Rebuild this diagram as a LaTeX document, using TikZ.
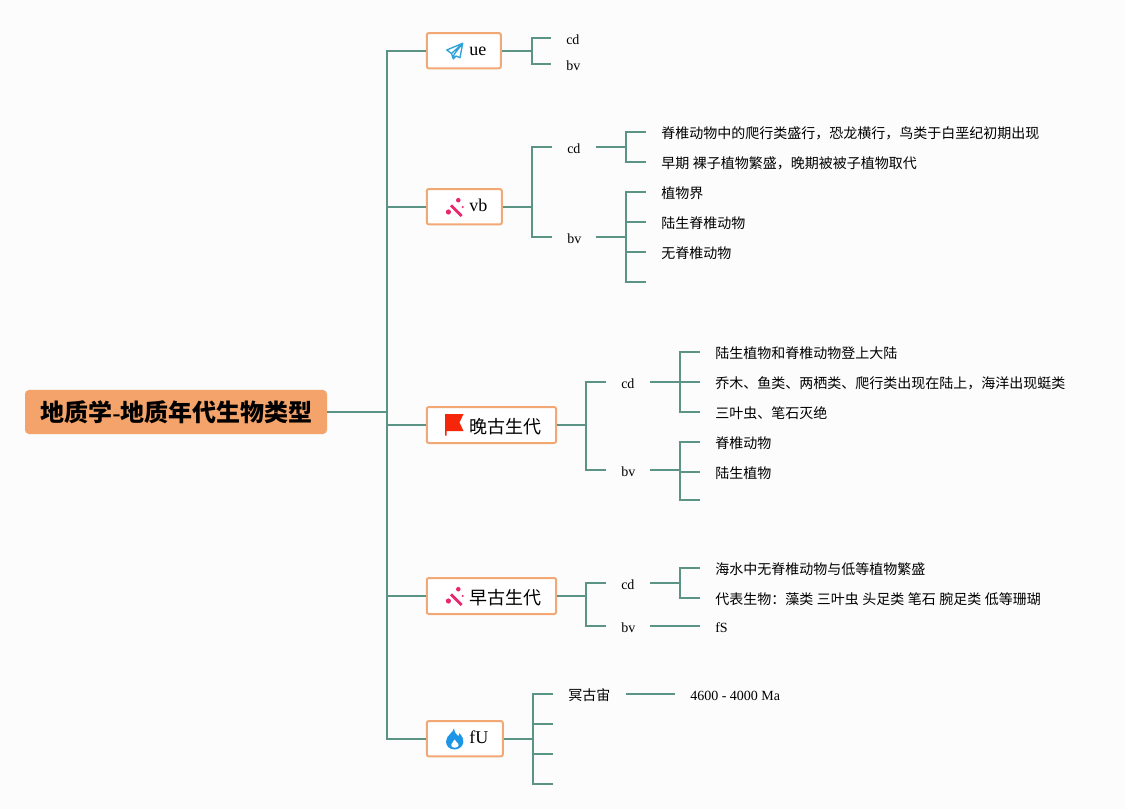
\documentclass[tikz,border=0pt]{standalone}
\usepackage{fontspec}
\setmainfont{Liberation Serif}
\newfontfamily\cjk{Noto Sans CJK SC}
\newcommand{\zh}[1]{{\cjk #1}}
\newcommand{\zsp}{{\rmfamily\ }}
\definecolor{bgc}{HTML}{FCFCFC}
\definecolor{linkc}{HTML}{5B9484}
\definecolor{rootc}{HTML}{F4A46A}
\definecolor{boxc}{HTML}{F2A875}
\definecolor{planec}{HTML}{2FA3D8}
\definecolor{wandc}{HTML}{E8286E}
\definecolor{flagc}{HTML}{F5260A}
\definecolor{flamec}{HTML}{1E96E8}
\tikzset{
  x=.75pt,y=-.75pt,
  link/.style={draw=linkc,line width=1.6pt},
  rootbox/.style={fill=rootc,rounded corners=3pt,inner sep=0pt,minimum width=226.5pt,minimum height=33pt,align=center,font=\fontsize{18}{20}\selectfont\bfseries},
  topicbox/.style={draw=boxc,fill=white,line width=1.5pt,rounded corners=1.5pt,inner sep=0pt,minimum height=26.5pt,anchor=west},
  boxtext/.style={inner sep=0pt,anchor=west,font=\fontsize{13.5}{15}\selectfont,text height=9.75pt,text depth=0pt},
  leaf/.style={anchor=west,inner xsep=11.25pt,inner ysep=0pt,font=\fontsize{10.5}{12}\selectfont,text height=9.75pt,text depth=0pt},
  midleaf/.style={leaf,text width=9.75pt,align=left},
  wandicon/.pic={
    \draw[wandc,line width=2.1pt] (-4,-1.7) -- (6.7,9);
    \fill[wandc] (3.3,-6.8) circle (2.3);
    \fill[wandc] (-6.6,5) circle (2.6);
    \fill[wandc] (7.7,0) circle (1.2);
  },
}
\begin{document}
\begin{tikzpicture}
\useasboundingbox[fill=bgc] (0,0) rectangle (1125,809);

% root and main trunk
\node[rootbox] (root) at (176,412) {\raisebox{-1.6pt}{\hspace{1pt}\zh{\bfseries 地质学}-\zh{\bfseries 地质年代生物类型}}};
\coordinate (mainJ) at (387,412);
\draw[link] (root.east) -- (mainJ);

% topics
\node[topicbox,minimum width=55.5pt] (tA) at (425.8,50.7) {};
\node[topicbox,minimum width=56.25pt] (tB) at (425.8,206.7) {};
\node[topicbox,minimum width=97pt,minimum height=27pt] (tC) at (425.8,425) {};
\node[topicbox,minimum width=97pt,minimum height=27pt] (tD) at (425.8,596) {};
\node[topicbox,minimum width=57pt] (tE) at (425.8,738.7) {};
\node[boxtext] (tAt) at (469,49) {ue};
\node[boxtext] (tBt) at (469,205) {vb};
\node[boxtext] (tCt) at (469,426.5) {\zh{晚古生代}};
\node[boxtext] (tDt) at (469,597.5) {\zh{早古生代}};
\node[boxtext] (tEt) at (469,737) {fU};
\draw[link] (mainJ) |- (tA.west);
\draw[link] (mainJ) |- (tB.west);
\draw[link] (mainJ) |- (tC.west);
\draw[link] (mainJ) |- (tD.west);
\draw[link] (mainJ) |- (tE.west);

% icons
\draw[planec,line width=1pt,line join=round] (462.7,43.3) -- (446.7,50) -- (451.5,53.5) -- (453.3,59) -- (456,56) -- (460,57.7) -- cycle (451.5,53.5) -- (462.7,43.3) (453.3,59) -- (454,54.5) -- (462.7,43.3);
\pic at (455,207) {wandicon};
\pic at (455,596) {wandicon};
\fill[flagc] (445,414) -- (463.5,414) -- (459.5,422.5) -- (463.5,431) -- (446.5,431) -- (446.5,435.5) -- (445,435.5) -- cycle;
\fill[flamec] (454,728.3) .. controls (454.5,732) and (456,734.5) .. (458,736) .. controls (459,735.5) and (459.5,734.5) .. (459.5,733) .. controls (462,735.5) and (463.5,739) .. (463.3,742) .. controls (463,746.5) and (459,749.5) .. (454.5,749.5) .. controls (449.5,749.5) and (446,746) .. (446,741.5) .. controls (446,738) and (448.5,735.5) .. (450.5,733.5) .. controls (452,732) and (453.5,730.5) .. (454,728.3) -- cycle;
\fill[white] (454.5,739.5) .. controls (455.5,742) and (459,743) .. (458.5,745.5) .. controls (458,748) and (452.5,748.5) .. (451.5,746) .. controls (450.5,743.5) and (454,742) .. (454.5,739.5) -- cycle;

% ue
\coordinate (aJ) at (532,50.7);
\draw[link] (tA.east) -- (aJ);
\node[midleaf] (a1) at (551,38) {cd};
\node[midleaf] (a2) at (551,64) {bv};
\draw[link] (aJ) |- (a1.west);
\draw[link] (aJ) |- (a2.west);

% vb
\coordinate (bJ) at (532,206.7);
\draw[link] (tB.east) -- (bJ);
\node[midleaf] (b1) at (552,147) {cd};
\node[midleaf] (b2) at (552,237) {bv};
\draw[link] (bJ) |- (b1.west);
\draw[link] (bJ) |- (b2.west);
\coordinate (b1J) at (626,147);
\draw[link] (b1.east) -- (b1J);
\node[leaf] (b11) at (646,132) {\zh{脊椎动物中的爬行类盛行，恐龙横行，鸟类于白垩纪初期出现}};
\node[leaf] (b12) at (646,162) {\zh{早期\zsp 裸子植物繁盛，晚期被被子植物取代}};
\draw[link] (b1J) |- (b11.west);
\draw[link] (b1J) |- (b12.west);
\coordinate (b2J) at (626,237);
\draw[link] (b2.east) -- (b2J);
\node[leaf] (b21) at (646,192) {\zh{植物界}};
\node[leaf] (b22) at (646,222) {\zh{陆生脊椎动物}};
\node[leaf] (b23) at (646,252) {\zh{无脊椎动物}};
\coordinate (b24) at (646,282);
\draw[link] (b2J) |- (b21.west);
\draw[link] (b2J) |- (b22.west);
\draw[link] (b2J) |- (b23.west);
\draw[link] (b2J) |- (b24);

% late paleozoic
\coordinate (cJ) at (586,425);
\draw[link] (tC.east) -- (cJ);
\node[midleaf] (c1) at (606,382) {cd};
\node[midleaf] (c2) at (606,470) {bv};
\draw[link] (cJ) |- (c1.west);
\draw[link] (cJ) |- (c2.west);
\coordinate (c1J) at (680,382);
\draw[link] (c1.east) -- (c1J);
\node[leaf] (c11) at (700,352) {\zh{陆生植物和脊椎动物登上大陆}};
\node[leaf] (c12) at (700,382) {\zh{乔木、鱼类、两栖类、爬行类出现在陆上，海洋出现蜓类}};
\node[leaf] (c13) at (700,412) {\zh{三叶虫、笔石灭绝}};
\draw[link] (c1J) |- (c11.west);
\draw[link] (c1J) -- (c12.west);
\draw[link] (c1J) |- (c13.west);
\coordinate (c2J) at (680,470);
\draw[link] (c2.east) -- (c2J);
\node[leaf] (c21) at (700,442) {\zh{脊椎动物}};
\node[leaf] (c22) at (700,472) {\zh{陆生植物}};
\coordinate (c23) at (700,500);
\draw[link] (c2J) |- (c21.west);
\draw[link] (c2J) |- (c22.west);
\draw[link] (c2J) |- (c23);

% early paleozoic
\coordinate (dJ) at (586,596);
\draw[link] (tD.east) -- (dJ);
\node[midleaf] (d1) at (606,583) {cd};
\node[midleaf] (d2) at (606,626) {bv};
\draw[link] (dJ) |- (d1.west);
\draw[link] (dJ) |- (d2.west);
\coordinate (d1J) at (680,583);
\draw[link] (d1.east) -- (d1J);
\node[leaf] (d11) at (700,568) {\zh{海水中无脊椎动物与低等植物繁盛}};
\node[leaf] (d12) at (700,598) {\zh{代表生物：藻类\zsp 三叶虫\zsp 头足类\zsp 笔石\zsp 腕足类\zsp 低等珊瑚}};
\draw[link] (d1J) |- (d11.west);
\draw[link] (d1J) |- (d12.west);
\node[leaf] (d21) at (700,626) {fS};
\draw[link] (d2.east) -- (d21.west);

% fU
\coordinate (eJ) at (533,738.7);
\draw[link] (tE.east) -- (eJ);
\node[leaf] (e1) at (553,694) {\zh{冥古宙}};
\coordinate (e2) at (553,724);
\coordinate (e3) at (553,754);
\coordinate (e4) at (553,784);
\draw[link] (eJ) |- (e1.west);
\draw[link] (eJ) |- (e2);
\draw[link] (eJ) |- (e3);
\draw[link] (eJ) |- (e4);
\node[leaf] (e11) at (675,694) {4600 - 4000 Ma};
\draw[link] (e1.east) -- (e11.west);
\end{tikzpicture}
\end{document}
